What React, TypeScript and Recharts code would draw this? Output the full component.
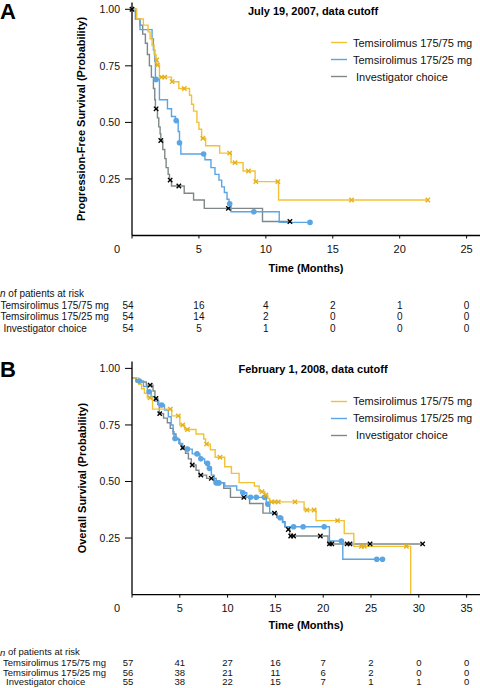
import React from 'react';
import { ComposedChart, Line, Scatter, XAxis, YAxis, Legend } from 'recharts';

const FONT = "'Liberation Sans', Arial, Helvetica, sans-serif";
const YELLOW = '#F3C234';
const YELLOW_MARK = '#E4B01C';
const BLUE = '#5AA5E4';
const GRAY = '#7E8888';

const SERIES_NAMES = ['Temsirolimus 175/75 mg', 'Temsirolimus 175/25 mg', 'Investigator choice'];

// ---- Panel A: progression-free survival (July 19, 2007 cutoff) ----
const pfsYellow = [
  [0, 1], [0.35, 0.957], [0.85, 0.93], [1.2, 0.9], [1.35, 0.87], [1.5, 0.84], [1.65, 0.8],
  [1.8, 0.776], [1.87, 0.754], [2.05, 0.7], [2.95, 0.68], [3.5, 0.65], [4.3, 0.62], [4.45, 0.58],
  [4.6, 0.55], [4.85, 0.5], [5.0, 0.47], [5.2, 0.43], [5.5, 0.397], [6.55, 0.364], [7.4, 0.322],
  [8.3, 0.285], [9.2, 0.238], [10.95, 0.157], [22.1, 0.157],
];
const pfsYellowCens = [
  [1.84, 0.776], [1.9, 0.754], [2.2, 0.7], [2.45, 0.7], [3.0, 0.68], [3.9, 0.65], [5.3, 0.43],
  [7.3, 0.364], [7.7, 0.322], [8.7, 0.285], [9.25, 0.238], [10.9, 0.238], [16.4, 0.157], [22.1, 0.157],
];
const pfsBlue = [
  [0, 1], [0.25, 0.957], [0.6, 0.91], [1.5, 0.87], [1.6, 0.82], [1.7, 0.77], [1.75, 0.69],
  [2.05, 0.6], [2.65, 0.56], [2.95, 0.526], [3.25, 0.508], [3.45, 0.46], [3.55, 0.41], [3.65, 0.36],
  [5.45, 0.335], [5.9, 0.3], [6.2, 0.27], [6.5, 0.245], [6.7, 0.215], [6.9, 0.19], [7.1, 0.16],
  [7.25, 0.14], [7.4, 0.105], [11.0, 0.058], [13.3, 0.058],
];
const pfsBlueCens = [
  [1.8, 0.69], [3.3, 0.508], [3.55, 0.41], [5.35, 0.36], [7.3, 0.14], [9.1, 0.105], [13.3, 0.058],
];
const pfsGray = [
  [0, 1], [0.3, 0.957], [0.6, 0.93], [0.8, 0.89], [1.0, 0.85], [1.15, 0.8], [1.3, 0.75], [1.45, 0.7],
  [1.6, 0.65], [1.7, 0.6], [1.75, 0.56], [1.9, 0.52], [2.0, 0.48], [2.1, 0.45], [2.15, 0.42],
  [2.3, 0.38], [2.45, 0.34], [2.55, 0.3], [2.7, 0.27], [2.8, 0.245], [2.95, 0.219], [3.9, 0.187],
  [4.6, 0.157], [5.4, 0.12], [9.75, 0.062], [11.8, 0.062],
];
const pfsGrayCens = [
  [0, 1], [1.8, 0.56], [2.15, 0.42], [2.85, 0.245], [3.5, 0.219], [7.2, 0.12], [11.8, 0.062],
];
const pfsTicks = [0, 5, 10, 15, 20, 25];
const pfsRisk = [
  [54, 16, 4, 2, 1, 0],
  [54, 14, 2, 0, 0, 0],
  [54, 5, 1, 0, 0, 0],
];

// ---- Panel B: overall survival (February 1, 2008 cutoff) ----
const osYellow = [
  [0, 0.958], [0.7, 0.93], [1.0, 0.91], [1.3, 0.89], [1.6, 0.87], [2.15, 0.82], [4.15, 0.79],
  [5.0, 0.75], [5.5, 0.73], [6.7, 0.71], [7.5, 0.688], [7.7, 0.665], [8.2, 0.64], [8.7, 0.607],
  [9.7, 0.565], [10.4, 0.536], [11.2, 0.495], [12.8, 0.48], [13.3, 0.455], [13.9, 0.44],
  [14.2, 0.425], [14.4, 0.41], [18.0, 0.374], [19.25, 0.327], [22.2, 0.27], [23.2, 0.213],
  [29.15, 0],
];
const osYellowCens = [
  [1.9, 0.87], [4.0, 0.82], [4.84, 0.79], [5.3, 0.75], [5.8, 0.73], [7.8, 0.665], [9.2, 0.607],
  [13.6, 0.455], [14.0, 0.44], [14.6, 0.41], [14.95, 0.41], [15.3, 0.41], [17.05, 0.41],
  [18.3, 0.374], [19.05, 0.374], [21.5, 0.327], [24.0, 0.213], [24.3, 0.213], [28.7, 0.213],
];
const osBlue = [
  [0, 0.958], [0.4, 0.944], [1.2, 0.92], [1.6, 0.897], [2.0, 0.875], [2.4, 0.855], [2.8, 0.838],
  [3.4, 0.816], [3.8, 0.786], [4.1, 0.75], [4.3, 0.72], [4.4, 0.69], [4.9, 0.668], [5.3, 0.643],
  [6.3, 0.622], [7.1, 0.6], [7.6, 0.58], [8.0, 0.558], [8.3, 0.528], [8.6, 0.494], [9.7, 0.48],
  [10.95, 0.462], [11.4, 0.45], [12.0, 0.43], [14.05, 0.4], [14.4, 0.36], [15.2, 0.34],
  [15.75, 0.318], [16.0, 0.3], [20.65, 0.237], [22.05, 0.156], [26.2, 0.156],
];
const osBlueCens = [
  [0.77, 0.944], [1.8, 0.897], [3.1, 0.838], [4.5, 0.69], [5.8, 0.643], [6.8, 0.622], [7.2, 0.6],
  [7.9, 0.58], [8.1, 0.558], [8.8, 0.494], [9.0, 0.494], [9.1, 0.494], [11.6, 0.45], [12.4, 0.43],
  [13.0, 0.43], [13.85, 0.43], [14.2, 0.4], [15.5, 0.34], [16.9, 0.3], [17.9, 0.3], [20.1, 0.3],
  [21.9, 0.237], [25.6, 0.156], [26.2, 0.156],
];
const osGray = [
  [0, 0.958], [0.45, 0.94], [1.5, 0.926], [2.2, 0.9], [2.4, 0.867], [2.7, 0.84], [2.85, 0.8],
  [3.3, 0.78], [3.7, 0.76], [4.0, 0.735], [4.3, 0.71], [4.6, 0.685], [5.0, 0.665], [5.2, 0.649],
  [5.6, 0.625], [5.9, 0.6], [6.2, 0.573], [6.7, 0.55], [7.0, 0.528], [7.8, 0.514], [8.8, 0.495],
  [9.6, 0.47], [10.3, 0.43], [12.3, 0.403], [13.7, 0.36], [15.15, 0.342], [15.75, 0.322],
  [16.0, 0.3], [16.3, 0.288], [16.5, 0.259], [20.5, 0.224], [30.4, 0.224],
];
const osGrayCens = [
  [1.9, 0.926], [2.5, 0.867], [2.9, 0.8], [5.3, 0.649], [6.3, 0.573], [7.2, 0.528], [8.3, 0.514],
  [11.7, 0.43], [14.9, 0.36], [16.35, 0.288], [16.6, 0.259], [16.9, 0.259], [19.7, 0.259],
  [20.65, 0.224], [20.9, 0.224], [22.5, 0.224], [22.8, 0.224], [24.9, 0.224], [30.4, 0.224],
];
const osTicks = [0, 5, 10, 15, 20, 25, 30, 35];
const osRisk = [
  [57, 41, 27, 16, 7, 2, 0, 0],
  [56, 38, 21, 11, 6, 2, 0, 0],
  [55, 38, 22, 15, 7, 1, 1, 0],
];

const yTicks = [0.25, 0.5, 0.75, 1];

const toPts = (arr: number[][]) => arr.map(([t, p]) => ({ t, p }));

const Cross = ({ cx, cy, color }: any) => (
  <path
    d={`M${cx - 2.2},${cy - 2.2}L${cx + 2.2},${cy + 2.2}M${cx - 2.2},${cy + 2.2}L${cx + 2.2},${cy - 2.2}`}
    stroke={color}
    strokeWidth={1.4}
    fill="none"
  />
);

const Dot = ({ cx, cy }: any) => <circle cx={cx} cy={cy} r={2.8} fill={BLUE} />;

// x tick + number-at-risk table drawn under each month tick
const RiskTick = (props: any) => {
  const { x, y, payload, ticks, counts, lay } = props;
  const v = payload.value;
  const i = ticks.indexOf(v);
  const ay = y - 3;
  const first = v === 0;
  return (
    <g fontFamily={FONT} fill="#111">
      <text x={first ? x - 15 : x} y={ay + lay.tickDy} textAnchor="middle" dominantBaseline="central" fontSize={11}>
        {v}
      </text>
      {counts.map((row: number[], k: number) => (
        <text key={k} x={first ? x - 4 : x} y={ay + lay.rowDy[k]} textAnchor="middle" dominantBaseline="central" fontSize={lay.fs}>
          {row[i]}
        </text>
      ))}
      {first && (
        <>
          <text x={lay.hdrX} y={ay + lay.hdrDy} fontSize={lay.fs} dominantBaseline="central">
            <tspan fontStyle="italic">n</tspan> of patients at risk
          </text>
          {SERIES_NAMES.map((nm, k) => (
            <text key={nm} x={lay.labelX[k]} y={ay + lay.rowDy[k]} fontSize={lay.fs} dominantBaseline="central">
              {nm}
            </text>
          ))}
        </>
      )}
    </g>
  );
};

const KMLegend = () => (
  <div style={{ fontFamily: FONT, fontSize: 11, color: '#111' }}>
    {SERIES_NAMES.map((nm, k) => (
      <div key={nm} style={{ display: 'flex', alignItems: 'center', height: 17, whiteSpace: 'nowrap' }}>
        <svg width={16} height={3} style={{ display: 'block' }}>
          <line x1={0} x2={16} y1={1.5} y2={1.5} stroke={[YELLOW, BLUE, GRAY][k]} strokeWidth={1.4} />
        </svg>
        <span style={{ marginLeft: 6 }}>{k === 2 ? '\u00a0' + nm : nm}</span>
      </div>
    ))}
  </div>
);

const Panel = ({ cfg }: any) => {
  const plotBottom = cfg.height - cfg.mb - cfg.axisH;
  const plotTop = cfg.mt;
  return (
    <div style={{ position: 'relative', width: 480, height: cfg.height }}>
      <ComposedChart
        width={480}
        height={cfg.height}
        margin={{ top: cfg.mt, right: 0, bottom: cfg.mb, left: 0 }}
      >
        <XAxis
          type="number"
          dataKey="t"
          domain={[0, cfg.xMax]}
          ticks={cfg.ticks}
          interval={0}
          height={cfg.axisH}
          tickSize={3}
          tickMargin={0}
          axisLine={{ stroke: '#000', strokeWidth: 1.3 }}
          tickLine={{ stroke: '#000' }}
          tick={<RiskTick ticks={cfg.ticks} counts={cfg.risk} lay={cfg.lay} />}
        />
        <YAxis
          type="number"
          dataKey="p"
          domain={[0, 1.03]}
          ticks={yTicks}
          interval={0}
          width={132}
          tickSize={7}
          tickMargin={5}
          tickFormatter={(v: number) => v.toFixed(2)}
          axisLine={{ stroke: '#000', strokeWidth: 1.3 }}
          tickLine={{ stroke: '#000' }}
          tick={{ fontSize: 10.5, fill: '#111', fontFamily: FONT }}
        />
        <Line data={toPts(cfg.gray)} dataKey="p" type="stepAfter" stroke={GRAY} strokeWidth={1.4} dot={false} activeDot={false} isAnimationActive={false} />
        <Line data={toPts(cfg.blue)} dataKey="p" type="stepAfter" stroke={BLUE} strokeWidth={1.4} dot={false} activeDot={false} isAnimationActive={false} />
        <Line data={toPts(cfg.yellow)} dataKey="p" type="stepAfter" stroke={YELLOW} strokeWidth={1.4} dot={false} activeDot={false} isAnimationActive={false} />
        <Scatter data={toPts(cfg.grayCens)} dataKey="p" shape={(p: any) => <Cross {...p} color="#000" />} isAnimationActive={false} />
        <Scatter data={toPts(cfg.blueCens)} dataKey="p" shape={(p: any) => <Dot {...p} />} isAnimationActive={false} />
        <Scatter data={toPts(cfg.yellowCens)} dataKey="p" shape={(p: any) => <Cross {...p} color={YELLOW_MARK} />} isAnimationActive={false} />
        <Legend
          layout="vertical"
          align="center"
          verticalAlign="middle"
          content={<KMLegend />}
          wrapperStyle={{ left: 331, top: cfg.legendTop, width: 'auto', height: 'auto' }}
        />
      </ComposedChart>
      <svg
        width={480}
        height={cfg.height}
        style={{ position: 'absolute', left: 0, top: 0, pointerEvents: 'none' }}
        fontFamily={FONT}
      >
        <text x={0} y={cfg.letterY} fontSize={22} fontWeight="bold" fill="#000">{cfg.letter}</text>
        <text x={313} y={cfg.titleY} fontSize={11} fontWeight="bold" textAnchor="middle" dominantBaseline="central" fill="#000">
          {cfg.title}
        </text>
        <text
          x={cfg.yTitleX}
          y={(plotTop + plotBottom) / 2}
          transform={`rotate(-90 ${cfg.yTitleX} ${(plotTop + plotBottom) / 2})`}
          fontSize={11}
          fontWeight="bold"
          textAnchor="middle"
          dominantBaseline="central"
          fill="#000"
        >
          {cfg.yTitle}
        </text>
        <text x={306} y={plotBottom + cfg.lay.xTitleDy} fontSize={11} fontWeight="bold" textAnchor="middle" dominantBaseline="central" fill="#000">
          Time (Months)
        </text>
      </svg>
    </div>
  );
};

const panelA = {
  height: 340, mt: 2.5, mb: 4.5, axisH: 100, xMax: 26,
  ticks: pfsTicks, risk: pfsRisk,
  yellow: pfsYellow, yellowCens: pfsYellowCens, blue: pfsBlue, blueCens: pfsBlueCens, gray: pfsGray, grayCens: pfsGrayCens,
  legendTop: 34, letter: 'A', letterY: 19, titleY: 10.7, yTitleX: 80.5,
  title: 'July 19, 2007, data cutoff',
  yTitle: 'Progression-Free Survival (Probability)',
  lay: { tickDy: 13.5, xTitleDy: 32.5, hdrDy: 57.5, rowDy: [69.5, 81.2, 92.8], fs: 10, hdrX: 0, labelX: [0.5, 0.5, 3.5] },
};

const panelB = {
  height: 348, mt: 21.6, mb: 3.4, axisH: 90, xMax: 36.4,
  ticks: osTicks, risk: osRisk,
  yellow: osYellow, yellowCens: osYellowCens, blue: osBlue, blueCens: osBlueCens, gray: osGray, grayCens: osGrayCens,
  legendTop: 52.5, letter: 'B', letterY: 37, titleY: 29.3, yTitleX: 82,
  title: 'February 1, 2008, data cutoff',
  yTitle: 'Overall Survival (Probability)',
  lay: { tickDy: 13.4, xTitleDy: 30.4, hdrDy: 57, rowDy: [67.5, 77.5, 87.3], fs: 9.5, hdrX: 0, labelX: [3, 3, 6] },
};

export default function App() {
  return (
    <div style={{ width: 480, fontFamily: FONT }}>
      <style>{'body{margin:0}'}</style>
      <Panel cfg={panelA} />
      <Panel cfg={panelB} />
    </div>
  );
}
